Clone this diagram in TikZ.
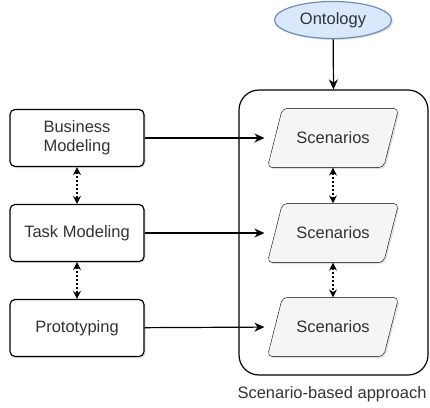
\documentclass[tikz,border=0pt]{standalone}
\usepackage{fontspec}
\setmainfont{Liberation Sans}
\usetikzlibrary{arrows.meta,shapes.geometric,shadows,backgrounds}
\definecolor{txtgray}{HTML}{333333}
\definecolor{ontofill}{HTML}{DAE8FC}
\definecolor{ontoline}{HTML}{6C8EBF}
\definecolor{scenfill}{HTML}{F5F5F5}

\begin{document}
\begin{tikzpicture}
			[x=1pt, y=-1pt, line width=1.2pt, font=\fontsize{16.5}{19}\selectfont, text=txtgray,
			shade/.style ={drop shadow={opacity=0.25, shadow xshift=1.5pt, shadow yshift=-1.5pt}},
			block/.style ={rectangle, draw=black, fill=white, rounded corners=5pt, minimum width=134pt, minimum height=57pt, align=center, shade},
			scen/.style ={rectangle, minimum width=100pt, minimum height=58pt},
			scenbox/.style ={draw=black, fill=scenfill, rounded corners=5pt, shade},
			onto/.style ={ellipse, draw=ontoline, fill=ontofill, minimum width=117pt, minimum height=37pt, shade},
			flow/.style ={-{Stealth[length=10pt,width=9pt]}},
			both/.style ={{Stealth[length=8pt,width=8pt]}-{Stealth[length=8pt,width=8pt]}, dash pattern=on 2pt off 2pt}];
			\useasboundingbox (0,0) rectangle (430,407);
			% left column
			\node [block] (business) at (77,138) {Business\\Modeling};
			\node [block] (task) at (77,233) {Task Modeling};
			\node [block] (proto) at (77,328) {Prototyping};
			% scenario-based approach
			\node [rectangle, draw=black, rounded corners=20pt, minimum width=189pt, minimum height=285pt] (approach) at (333.5,232.5) {};
			\node (caption) at (332,394) {Scenario-based approach};
			\node [onto] (ontology) at (333,20) {Ontology};
			\node [scen] (scena) at (333,138) {Scenarios};
			\node [scen] (scenb) at (333,233) {Scenarios};
			\node [scen] (scenc) at (333,327) {Scenarios};
			% parallelograms behind the scenarios
			\begin{scope}[on background layer]
				\foreach \s in {scena,scenb,scenc}
					\draw [scenbox] ([xshift=-15pt]\s.south west) -- (\s.north west) -- ([xshift=15pt]\s.north east) -- (\s.south east) -- cycle;
			\end{scope}
			% connectors
			\draw [flow] (ontology) -- (approach.north);
			\draw [flow, shorten >=18pt] (business) -- (scena.west);
			\draw [flow, shorten >=18pt] (task) -- (scenb.west);
			\draw [flow, shorten >=18pt] (proto) -- (scenc.west);
			\draw [both] (business) -- (task);
			\draw [both] (task) -- (proto);
			\draw [both] (scena) -- (scenb);
			\draw [both] (scenb) -- (scenc);
		\end{tikzpicture}
\end{document}
